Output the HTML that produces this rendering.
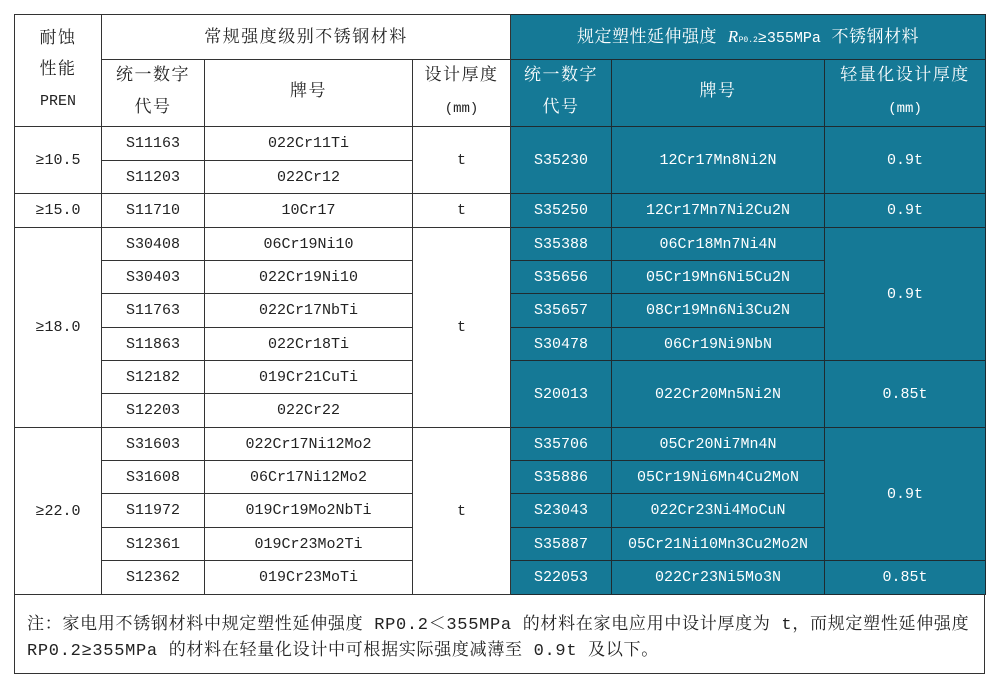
<!DOCTYPE html>
<html><head><meta charset="utf-8"><style>
body{margin:0;background:#fff;width:1000px;height:690px;position:relative;overflow:hidden}
table{position:absolute;left:14px;top:14px;border-collapse:collapse;table-layout:fixed;width:971px;
font-family:"Liberation Mono","Noto Serif CJK SC",monospace;font-size:15px;color:#222}
td{border:1px solid #333;text-align:center;vertical-align:middle;padding:0;line-height:31px}
td.t{background:#157996;color:#fff;border-color:#1f2b30}
.h{font-size:17px;letter-spacing:1.5px;line-height:32px}
.l{font-size:15px;letter-spacing:0}
.note{position:absolute;left:14px;top:594px;width:969px;height:79px;border:1px solid #333;border-top:none;
font-family:"Liberation Mono","Noto Serif CJK SC",monospace;font-size:17px;letter-spacing:0.7px;color:#222;box-sizing:content-box}
.note div{position:absolute;left:12px;white-space:nowrap}
</style></head><body>
<table>
<colgroup><col style="width:87px"><col style="width:103px"><col style="width:208px"><col style="width:98px"><col style="width:101px"><col style="width:213px"><col style="width:161px"></colgroup>
<tr style="height:45px"><td rowspan="2" class="h" style="line-height:31px">耐蚀<br>性能<br><span class="l">PREN</span></td><td colspan="3" class="h" style="padding-top:3px">常规强度级别不锈钢材料</td><td colspan="3" class="t h" style="padding-top:3px;letter-spacing:0.5px">规定塑性延伸强度 <i style="font-family:'Liberation Serif',serif">R</i><span style="font-size:8px;letter-spacing:0">P0.2</span><span class="l">≥355MPa</span> 不锈钢材料</td></tr>
<tr style="height:67px"><td class="h">统一数字<br>代号</td><td class="h">牌号</td><td class="h">设计厚度<br><span style="font-size:14px;letter-spacing:0">(mm)</span></td><td class="t h">统一数字<br>代号</td><td class="t h">牌号</td><td class="t h">轻量化设计厚度<br><span style="font-size:14px;letter-spacing:0">(mm)</span></td></tr>
<tr style="height:34px"><td rowspan="2">≥10.5</td><td>S11163</td><td>022Cr11Ti</td><td rowspan="2">t</td><td rowspan="2" class="t">S35230</td><td rowspan="2" class="t">12Cr17Mn8Ni2N</td><td rowspan="2" class="t">0.9t</td></tr>
<tr style="height:33px"><td>S11203</td><td>022Cr12</td></tr>
<tr style="height:34px"><td>≥15.0</td><td>S11710</td><td>10Cr17</td><td>t</td><td class="t">S35250</td><td class="t">12Cr17Mn7Ni2Cu2N</td><td class="t">0.9t</td></tr>
<tr style="height:33px"><td rowspan="6">≥18.0</td><td>S30408</td><td>06Cr19Ni10</td><td rowspan="6">t</td><td class="t">S35388</td><td class="t">06Cr18Mn7Ni4N</td><td rowspan="4" class="t">0.9t</td></tr>
<tr style="height:33px"><td>S30403</td><td>022Cr19Ni10</td><td class="t">S35656</td><td class="t">05Cr19Mn6Ni5Cu2N</td></tr>
<tr style="height:34px"><td>S11763</td><td>022Cr17NbTi</td><td class="t">S35657</td><td class="t">08Cr19Mn6Ni3Cu2N</td></tr>
<tr style="height:33px"><td>S11863</td><td>022Cr18Ti</td><td class="t">S30478</td><td class="t">06Cr19Ni9NbN</td></tr>
<tr style="height:33px"><td>S12182</td><td>019Cr21CuTi</td><td rowspan="2" class="t">S20013</td><td rowspan="2" class="t">022Cr20Mn5Ni2N</td><td rowspan="2" class="t">0.85t</td></tr>
<tr style="height:34px"><td>S12203</td><td>022Cr22</td></tr>
<tr style="height:33px"><td rowspan="5">≥22.0</td><td>S31603</td><td>022Cr17Ni12Mo2</td><td rowspan="5">t</td><td class="t">S35706</td><td class="t">05Cr20Ni7Mn4N</td><td rowspan="4" class="t">0.9t</td></tr>
<tr style="height:33px"><td>S31608</td><td>06Cr17Ni12Mo2</td><td class="t">S35886</td><td class="t">05Cr19Ni6Mn4Cu2MoN</td></tr>
<tr style="height:34px"><td>S11972</td><td>019Cr19Mo2NbTi</td><td class="t">S23043</td><td class="t">022Cr23Ni4MoCuN</td></tr>
<tr style="height:33px"><td>S12361</td><td>019Cr23Mo2Ti</td><td class="t">S35887</td><td class="t">05Cr21Ni10Mn3Cu2Mo2N</td></tr>
<tr style="height:34px"><td>S12362</td><td>019Cr23MoTi</td><td class="t">S22053</td><td class="t">022Cr23Ni5Mo3N</td><td class="t">0.85t</td></tr>
</table>
<div class="note">
<div style="top:15px">注：家电用不锈钢材料中规定塑性延伸强度 RP0.2＜355MPa 的材料在家电应用中设计厚度为 t，而规定塑性延伸强度</div>
<div style="top:41px">RP0.2≥355MPa 的材料在轻量化设计中可根据实际强度减薄至 0.9t 及以下。</div>
</div>
</body></html>
